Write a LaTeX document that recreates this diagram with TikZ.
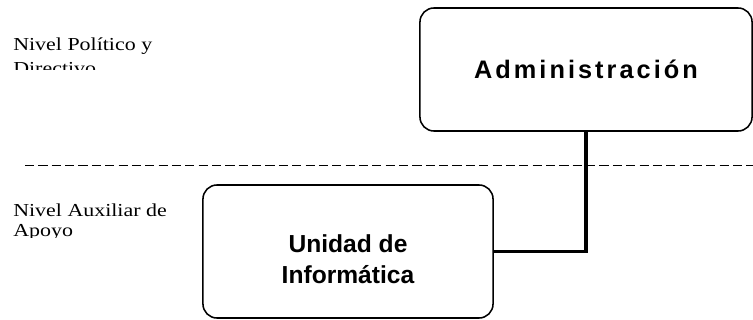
\documentclass[tikz,border=0pt]{standalone}
\usepackage{fontspec}
\setmainfont{Liberation Serif}
\newfontfamily\levelfont[FakeStretch=1.2]{Liberation Serif}
\newfontfamily\boxfont{Liberation Sans}
\newfontfamily\spacedfont[LetterSpace=12]{Liberation Sans}
\usetikzlibrary{positioning}

\begin{document}
\begin{tikzpicture}[x=0.025cm,y=-0.025cm,
    orgbox/.style={draw,line width=1.1pt,rounded corners=10pt,align=center,inner sep=0pt},
    levellabel/.style={anchor=base west,align=left,inner sep=0pt,
                       font=\levelfont\fontsize{13}{14.2}\selectfont}]
  \useasboundingbox (0,0) rectangle (753,320);
  % boxes
  \node[orgbox,minimum width=8.3cm,minimum height=3.075cm,
        font=\spacedfont\bfseries\fontsize{18}{21}\selectfont]
        (admin) at (586,69.5) {Administración};
  \node[orgbox,minimum width=7.25cm,minimum height=3.325cm,text height=45pt,
        font=\boxfont\bfseries\fontsize{17.5}{21.5}\selectfont]
        (unidad) at (348,251.5) {Unidad de\\Informática};
  % level separator
  \draw[dash pattern=on 6.5pt off 3pt,line width=0.7pt] (25,165) -- (753,165);
  % level labels (cut off as in the original)
  \begin{scope}
    \clip (0,0) rectangle (200,70);
    \node[levellabel] (politico) at (13,75) {Nivel Político y\\[3.5pt]Directivo};
  \end{scope}
  \begin{scope}
    \clip (0,170) rectangle (200,237);
    \node[levellabel] (auxiliar) at (13,236) {Nivel Auxiliar de\\Apoyo};
  \end{scope}
  % connector
  \draw[line width=2.8pt] (admin.south) |- (unidad.east);
\end{tikzpicture}
\end{document}
